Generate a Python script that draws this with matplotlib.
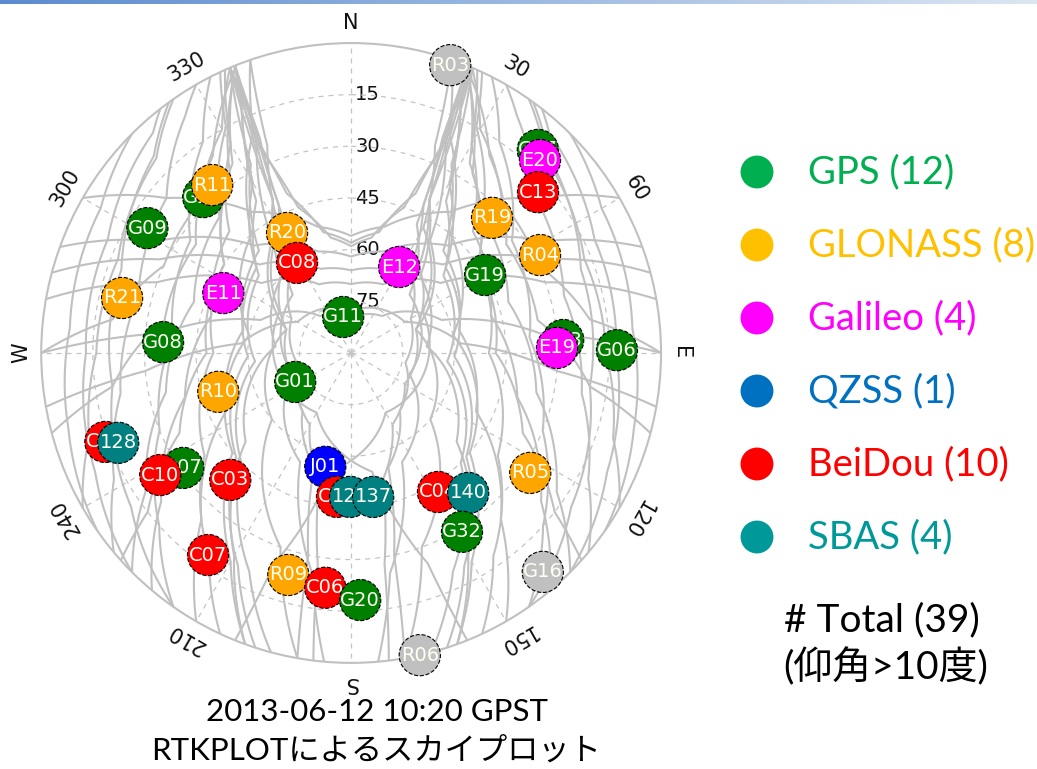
import matplotlib.pyplot as plt
import numpy as np
from matplotlib.colors import LinearSegmentedColormap

# satellites in drawing order (later ones sit on top)
sat_names = ['G17', 'E20', 'C13', 'R19', 'R04', 'G19', 'E12', 'R20', 'C08', 'G28',
             'R11', 'G09', 'R21', 'E11', 'G11', 'G08', 'R10', 'G01', 'C02', '128',
             'G07', 'C10', 'C03', 'J01', 'C01', '129', '137', 'C04', '140', 'R05',
             'G32', 'G23', 'E19', 'G06', 'C07', 'R09', 'C06', 'G20', 'G16', 'R03', 'R06']
sat_sys = ['G', 'E', 'C', 'R', 'R', 'G', 'E', 'R', 'C', 'G',
           'R', 'G', 'R', 'E', 'G', 'G', 'R', 'G', 'C', 'S',
           'G', 'C', 'C', 'J', 'C', 'S', 'S', 'C', 'S', 'R',
           'G', 'G', 'E', 'G', 'C', 'R', 'C', 'G', 'X', 'X', 'X']
sat_az = [42.6, 44.4, 49.3, 46.2, 62.6, 59.8, 29.2, 331.9, 329.0, 316.5,
          320.4, 301.5, 283.5, 295.1, 347.5, 273.3, 253.7, 242.6, 250.1, 248.9,
          235.6, 237.4, 223.6, 192.8, 185.6, 180.4, 171.3, 148.0, 140.1, 123.8,
          148.2, 86.5, 88.6, 89.4, 215.3, 195.8, 186.3, 177.9, 138.8, 19.0, 167.2]
sat_el = [9.9, 11.6, 18.4, 33.3, 28.2, 45.0, 61.4, 50.5, 59.5, 27.6,
          26.7, 20.6, 21.6, 49.0, 79.3, 35.3, 49.8, 71.7, 14.1, 17.5,
          30.9, 24.2, 39.1, 56.1, 48.0, 48.2, 47.7, 42.4, 37.0, 27.4,
          28.9, 28.3, 30.2, 12.8, 18.1, 23.0, 21.4, 18.2, 5.5, 1.6, 0.0]

# satellite tracks as (azimuth, elevation) waypoints, azimuth kept continuous
tracks = [
    # rising in the south-west, setting in the north-west corner
    [(190, 0), (200, 30), (230, 60), (290, 70), (325, 50), (335, 25), (338, 0)],
    [(195, 0), (205, 20), (225, 45), (265, 62), (310, 55), (328, 38), (336, 12), (338, 0)],
    [(198, 0), (208, 20), (228, 45), (268, 60), (312, 53), (330, 33), (337, 8), (337, 0)],
    [(205, 0), (215, 18), (235, 38), (270, 50), (305, 45), (326, 27), (336, 5), (337, 0)],
    [(215, 0), (228, 15), (248, 30), (275, 38), (305, 33), (325, 15), (333, 0)],
    [(230, 0), (242, 12), (260, 22), (285, 26), (310, 20), (325, 6), (330, 0)],
    [(185, 0), (190, 25), (205, 55), (250, 72), (315, 66), (333, 48), (337, 22), (338, 0)],
    [(200, 0), (210, 22), (230, 50), (275, 68), (318, 60), (333, 40), (337, 15), (338, 0)],
    [(220, 0), (232, 20), (255, 40), (285, 48), (315, 40), (330, 20), (336, 0)],
    [(240, 0), (252, 10), (270, 16), (292, 17), (315, 10), (325, 0)],
    [(190, 0), (192, 30), (198, 55), (220, 68), (260, 74), (300, 70), (325, 60), (334, 42), (337, 18), (337, 0)],
    [(210, 0), (222, 25), (245, 50), (282, 58), (318, 50), (332, 28), (337, 0)],
    [(187, 0), (189, 28), (194, 52), (210, 66), (240, 72), (290, 70), (322, 58), (333, 40), (337, 0)],
    [(225, 0), (236, 18), (258, 35), (288, 42), (316, 35), (331, 15), (335, 0)],
    # rising in the south-east, setting in the north-east corner
    [(170, 0), (160, 30), (130, 60), (70, 70), (35, 50), (25, 25), (22, 0)],
    [(165, 0), (155, 20), (135, 45), (95, 62), (50, 55), (32, 38), (24, 12), (22, 0)],
    [(162, 0), (152, 20), (132, 45), (92, 60), (48, 53), (30, 33), (23, 8), (23, 0)],
    [(155, 0), (145, 18), (125, 38), (90, 50), (55, 45), (34, 27), (24, 5), (23, 0)],
    [(145, 0), (132, 15), (112, 30), (85, 38), (55, 33), (35, 15), (27, 0)],
    [(130, 0), (118, 12), (100, 22), (75, 26), (50, 20), (35, 6), (30, 0)],
    [(175, 0), (170, 25), (155, 55), (110, 72), (45, 66), (27, 48), (23, 22), (22, 0)],
    [(160, 0), (150, 22), (130, 50), (85, 68), (42, 60), (27, 40), (23, 15), (22, 0)],
    [(140, 0), (128, 20), (105, 40), (75, 48), (45, 40), (30, 20), (24, 0)],
    [(120, 0), (108, 10), (90, 16), (68, 17), (45, 10), (35, 0)],
    [(170, 0), (168, 30), (162, 55), (140, 68), (100, 74), (60, 70), (35, 60), (26, 42), (23, 18), (23, 0)],
    [(150, 0), (138, 25), (115, 50), (78, 58), (42, 50), (28, 28), (23, 0)],
    [(173, 0), (171, 28), (166, 52), (150, 66), (120, 72), (70, 70), (38, 58), (27, 40), (23, 0)],
    [(135, 0), (124, 18), (102, 35), (72, 42), (44, 35), (29, 15), (25, 0)],
    # west to east just below the northern gap
    [(300, 0), (310, 20), (325, 40), (345, 52), (360, 56), (375, 52), (395, 40), (410, 20), (420, 0)],
    [(290, 0), (300, 25), (318, 48), (342, 59), (360, 62), (378, 59), (402, 48), (420, 25), (430, 0)],
    [(280, 0), (290, 30), (308, 57), (335, 68), (360, 70), (385, 68), (412, 57), (430, 30), (440, 0)],
    [(270, 0), (276, 35), (290, 62), (320, 76), (360, 80), (400, 76), (430, 62), (444, 35), (450, 0)],
    [(285, 0), (296, 28), (314, 53), (340, 64), (360, 66), (380, 64), (406, 53), (424, 28), (435, 0)],
    [(260, 0), (265, 30), (275, 58), (300, 72), (360, 78), (420, 72), (445, 58), (455, 30), (460, 0)],
    # climbing the walls of the gap
    [(337, 0), (336, 20), (338, 40), (347, 54), (360, 58), (373, 54), (382, 40), (384, 20), (383, 0)],
    [(338, 0), (336, 25), (340, 45), (350, 56), (360, 59), (370, 56), (380, 45), (384, 25), (382, 0)],
    # fans out of the north-west / north-east corners
    [(337, 0), (330, 15), (315, 28), (295, 30), (278, 20), (270, 0)],
    [(337, 2), (325, 20), (305, 35), (280, 35), (262, 20), (255, 0)],
    [(338, 0), (328, 25), (305, 45), (270, 48), (245, 35), (232, 15), (228, 0)],
    [(23, 0), (30, 15), (45, 28), (65, 30), (82, 20), (90, 0)],
    [(23, 2), (35, 20), (55, 35), (80, 35), (98, 20), (105, 0)],
    [(22, 0), (32, 25), (55, 45), (90, 48), (115, 35), (128, 15), (132, 0)],
    # long GLONASS-like passes
    [(19, 0), (24, 20), (40, 45), (80, 60), (130, 45), (150, 20), (160, 0)],
    [(19, 0), (22, 25), (30, 48), (60, 66), (150, 70), (190, 55), (200, 25), (202, 0)],
    [(341, 0), (336, 20), (320, 45), (280, 60), (230, 45), (210, 20), (200, 0)],
    [(341, 0), (338, 25), (330, 48), (300, 66), (210, 70), (170, 55), (160, 25), (158, 0)],
    # low passes along the rim
    [(225, 0), (245, 8), (270, 13), (295, 12), (318, 4), (322, 0)],
    [(235, 0), (255, 5), (275, 8), (300, 6), (315, 0)],
    [(215, 0), (235, 12), (262, 20), (290, 19), (315, 9), (324, 0)],
    [(135, 0), (115, 8), (90, 13), (65, 12), (42, 4), (38, 0)],
    [(125, 0), (105, 5), (85, 8), (60, 6), (45, 0)],
    [(145, 0), (125, 12), (98, 20), (70, 19), (45, 9), (36, 0)],
]

az_ticks = ['N', '30', '60', 'E', '120', '150', 'S', '210', '240', 'W', '300', '330']
el_ticks = [15, 30, 45, 60, 75]

legend_names = ['GPS', 'GLONASS', 'Galileo', 'QZSS', 'BeiDou', 'SBAS']
legend_counts = [12, 8, 4, 1, 10, 4]

sys_color = {'G': '#008000', 'R': '#FFA500', 'E': '#FF00FF', 'J': '#0000FF',
             'C': '#FF0000', 'S': '#008080', 'X': '#C0C0C0'}
legend_color = ['#00B050', '#FFC000', '#FF00FF', '#0070C0', '#FF0000', '#009999']

fig = plt.figure(figsize=(10.37, 7.69), dpi=100)

# header strip
hdr = fig.add_axes([0, 1 - 4 / 769, 1, 4 / 769])
cm = LinearSegmentedColormap.from_list('hdr', ['#5B8BCF', '#DCE6F2'])
hdr.imshow(np.linspace(0, 1, 256)[None, :], aspect='auto', cmap=cm)
hdr.axis('off')

ax = fig.add_axes([0.0396, 0.138, 0.598, 0.806], projection='polar')
ax.set_theta_zero_location('N')
ax.set_theta_direction(-1)
ax.set_ylim(0, 90)
ax.set_rticks(el_ticks)
ax.set_yticklabels([])
ax.set_xticks(np.radians(np.arange(0, 360, 30)))
ax.set_xticklabels([])
ax.grid(True, color='#C4C4C4', linestyle=(0, (4, 4)), linewidth=0.9)
ax.spines['polar'].set_color('#C0C0C0')
ax.spines['polar'].set_linewidth(1.5)

for a, lab in zip(range(0, 360, 30), az_ticks):
    ax.text(np.radians(a), 95.8, lab, rotation=-a, rotation_mode='anchor',
            ha='center', va='center', fontsize=15, color='#111111', clip_on=False)

for e in el_ticks:
    ax.annotate(str(e), xy=(0, 90 - e), xytext=(3, 0), textcoords='offset points',
                ha='left', va='center', fontsize=14, color='#111111', zorder=1)

for tr in tracks:
    taz, tel = zip(*tr)
    ln, = ax.plot(np.radians(taz), 90 - np.array(tel), color='#C0C0C0', lw=1.5, zorder=2)
    ln._path._interpolation_steps = 40

for i, (n, s, a, e) in enumerate(zip(sat_names, sat_sys, sat_az, sat_el)):
    ax.scatter(np.radians(a), 90 - e, s=880, color=sys_color[s], edgecolors='black',
               linewidths=0.8, linestyle='--', zorder=10 + 2 * i, clip_on=False)
    ax.text(np.radians(a), 90 - e, n, ha='center', va='center', fontsize=14,
            color='#FFFFF4', zorder=11 + 2 * i, clip_on=False)

# legend and captions
ov = fig.add_axes([0, 0, 1, 1])
ov.set_xlim(0, 1037)
ov.set_ylim(769, 0)
ov.axis('off')
fam = ['Lato', 'Noto Sans CJK JP']
for i, (n, c, col) in enumerate(zip(legend_names, legend_counts, legend_color)):
    y = 172 + i * 73
    ov.scatter(757, y, s=560, color=col, edgecolors='none')
    ov.text(808, y, f'{n} ({c})', color=col, fontsize=27.5, family=fam,
            ha='left', va='center')
ov.text(882, 620, '# Total (39)', fontsize=28, family=fam, ha='center', va='center')
ov.text(886, 667, '(仰角>10度)', fontsize=28, family=fam, ha='center', va='center')
ov.text(377, 712, '2013-06-12 10:20 GPST', fontsize=22.5, family=fam, ha='center', va='center')
ov.text(376, 750, 'RTKPLOTによるスカイプロット', fontsize=22.5, family=fam, ha='center', va='center')

fig.savefig('out.png', dpi=100)
